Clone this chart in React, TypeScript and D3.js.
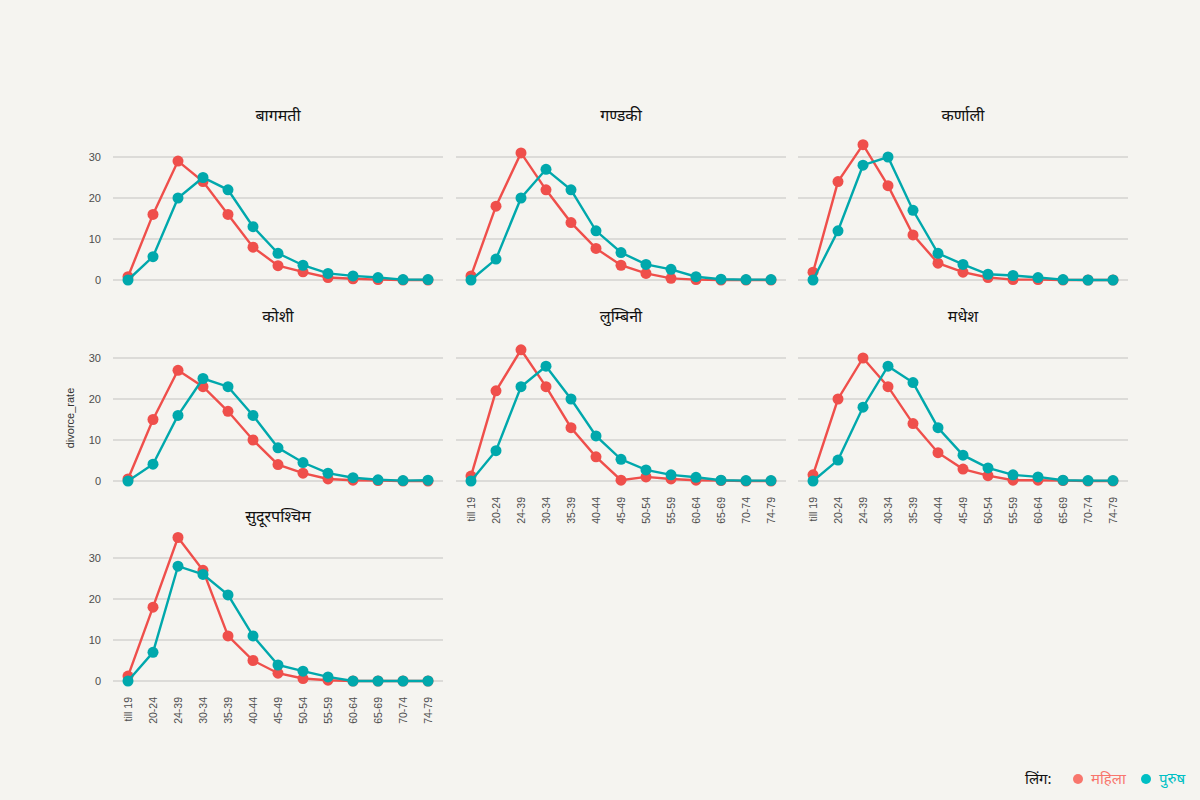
import * as d3 from 'd3';

const ageGroups = ['till 19', '20-24', '24-39', '30-34', '35-39', '40-44', '45-49', '50-54', '55-59', '60-64', '65-69', '70-74', '74-79'];

const provinces = ['बागमती', 'गण्डकी', 'कर्णाली', 'कोशी', 'लुम्बिनी', 'मधेश', 'सुदूरपश्चिम'];

const femaleBagmati = [0.8, 16, 29, 24, 16, 8, 3.5, 2, 0.6, 0.3, 0.1, 0, 0];
const maleBagmati = [0, 5.7, 20, 25, 22, 13, 6.5, 3.6, 1.6, 1.0, 0.6, 0.1, 0.1];
const femaleGandaki = [1.0, 18, 31, 22, 14, 7.7, 3.6, 1.6, 0.4, 0.1, 0, 0, 0];
const maleGandaki = [0, 5.1, 20, 27, 22, 12, 6.7, 3.8, 2.6, 0.8, 0.2, 0.1, 0.1];
const femaleKarnali = [1.9, 24, 33, 23, 11, 4.1, 1.9, 0.6, 0.1, 0.1, 0, 0, 0];
const maleKarnali = [0, 12, 28, 30, 17, 6.5, 3.8, 1.4, 1.1, 0.6, 0.1, 0, 0];
const femaleKoshi = [0.5, 15, 27, 23, 17, 10, 4, 1.9, 0.5, 0.2, 0.1, 0, 0];
const maleKoshi = [0, 4.1, 16, 25, 23, 16, 8.1, 4.5, 1.9, 0.8, 0.3, 0.1, 0.2];
const femaleLumbini = [1.2, 22, 32, 23, 13, 5.9, 0.2, 1.0, 0.5, 0.2, 0.1, 0, 0];
const maleLumbini = [0, 7.4, 23, 28, 20, 11, 5.3, 2.7, 1.5, 0.9, 0.2, 0.1, 0.1];
const femaleMadhesh = [1.5, 20, 30, 23, 14, 6.9, 2.9, 1.3, 0.2, 0.2, 0.1, 0, 0];
const maleMadhesh = [0, 5.1, 18, 28, 24, 13, 6.3, 3.2, 1.5, 1.0, 0.2, 0.1, 0.1];
const femaleSudurpaschim = [1.2, 18, 35, 27, 11, 5, 1.9, 0.6, 0.2, 0, 0, 0, 0];
const maleSudurpaschim = [0, 7, 28, 26, 21, 11, 3.9, 2.4, 1.0, 0, 0, 0, 0];

const femaleSeries = [femaleBagmati, femaleGandaki, femaleKarnali, femaleKoshi, femaleLumbini, femaleMadhesh, femaleSudurpaschim];
const maleSeries = [maleBagmati, maleGandaki, maleKarnali, maleKoshi, maleLumbini, maleMadhesh, maleSudurpaschim];

const yTicks = [0, 10, 20, 30];

const legendTitle = 'लिंग:';
const legendLabels = ['महिला', 'पुरुष'];

const FEMALE = '#EF4F4B';
const MALE = '#00A8AC';
const FEMALE_LEGEND = '#F8766D';
const MALE_LEGEND = '#00BFC4';
const FONT = "'Noto Sans', 'Noto Sans Devanagari', 'DejaVu Sans', sans-serif";
const AXIS_FONT = "'Liberation Sans', Arial, sans-serif";

const colLefts = [113, 456, 798];
const panelWidth = 330;
const rowZeros = [280, 481, 681];
const unitPx = 4.1;

function Panel({ index }: { index: number }) {
  const col = index % 3;
  const row = Math.floor(index / 3);
  const left = colLefts[col];
  const zeroY = rowZeros[row];

  const x = d3
    .scalePoint<string>()
    .domain(ageGroups)
    .range([left, left + panelWidth])
    .padding(0.6);

  const y = d3
    .scaleLinear()
    .domain([-1.75, 36.75])
    .range([zeroY + 1.75 * unitPx, zeroY - 36.75 * unitPx]);

  const line = d3
    .line<number>()
    .x((_, i) => x(ageGroups[i]) ?? 0)
    .y((v) => y(v));

  const showYAxis = col === 0;
  const showXAxis = index >= 4;
  const series = [
    { values: femaleSeries[index], color: FEMALE },
    { values: maleSeries[index], color: MALE },
  ];

  return (
    <g>
      <text
        x={left + panelWidth / 2}
        y={y(36.75) - 8}
        textAnchor="middle"
        fontSize={16}
        fontWeight={400}
        fill="#111"
        fontFamily={FONT}
      >
        {provinces[index]}
      </text>
      {yTicks.map((t) => (
        <line
          key={t}
          x1={left}
          x2={left + panelWidth}
          y1={y(t)}
          y2={y(t)}
          stroke="#DCDBD8"
          strokeWidth={1.8}
        />
      ))}
      {showYAxis &&
        yTicks.map((t) => (
          <text
            key={t}
            x={left - 12}
            y={y(t)}
            dy="0.35em"
            textAnchor="end"
            fontSize={11}
            fill="#4d4d4d"
            fontFamily={AXIS_FONT}
          >
            {t}
          </text>
        ))}
      {showXAxis &&
        ageGroups.map((g) => (
          <text
            key={g}
            transform={`translate(${x(g)},${zeroY + 16}) rotate(-90)`}
            dy="0.35em"
            textAnchor="end"
            fontSize={10.5}
            fill="#4d4d4d"
            fontFamily={AXIS_FONT}
          >
            {g}
          </text>
        ))}
      {series.map((s, si) => (
        <g key={si}>
          <path d={line(s.values) ?? ''} fill="none" stroke={s.color} strokeWidth={2.4} />
          {s.values.map((v, i) => (
            <circle key={i} cx={x(ageGroups[i])} cy={y(v)} r={5.5} fill={s.color} />
          ))}
        </g>
      ))}
    </g>
  );
}

export default function App() {
  return (
    <div style={{ position: 'fixed', left: 0, top: 0 }}>
      <svg width={1200} height={800} style={{ display: 'block', background: '#F5F4F0' }}>
        {provinces.map((_, i) => (
          <Panel key={i} index={i} />
        ))}
        <text
          transform="translate(70,418) rotate(-90)"
          dy="0.35em"
          textAnchor="middle"
          fontSize={11}
          fill="#333"
          fontFamily={AXIS_FONT}
        >
          divorce_rate
        </text>
        <g fontFamily={FONT}>
          <text x={1025} y={779} dy="0.35em" fontSize={15} fill="#111">
            {legendTitle}
          </text>
          <circle cx={1078} cy={779} r={5} fill={FEMALE_LEGEND} />
          <text x={1091} y={779} dy="0.35em" fontSize={15} fill={FEMALE_LEGEND}>
            {legendLabels[0]}
          </text>
          <circle cx={1146} cy={779} r={5} fill={MALE_LEGEND} />
          <text x={1159} y={779} dy="0.35em" fontSize={15} fill={MALE_LEGEND}>
            {legendLabels[1]}
          </text>
        </g>
      </svg>
    </div>
  );
}
